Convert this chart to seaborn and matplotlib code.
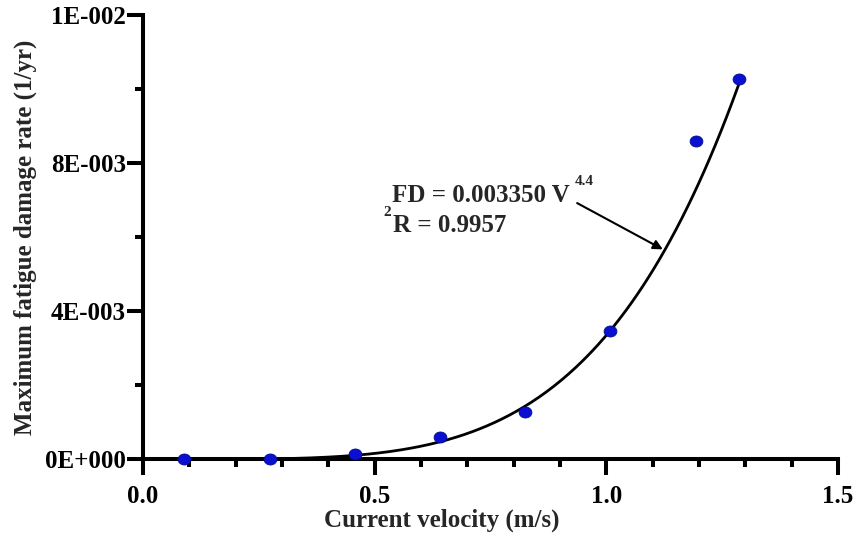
import numpy as np
import pandas as pd
import matplotlib
matplotlib.use("Agg")
import matplotlib.pyplot as plt
from matplotlib.path import Path
from matplotlib.ticker import MultipleLocator
import seaborn as sns

# Measured fatigue damage rates versus current velocity
velocity = [0.089, 0.274, 0.458, 0.641, 0.825, 1.009, 1.193, 1.287]
damage_rate = [0.0, 0.0, 0.00014, 0.0006, 0.00127, 0.00347, 0.0086, 0.01028]

# Power-law fit FD = a * V^b
fit_coef = 0.003350
fit_exp = 4.4
fit_r2 = 0.9957

x_ticks = [0.0, 0.5, 1.0, 1.5]
x_tick_labels = ["0.0", "0.5", "1.0", "1.5"]
y_ticks = [0.0, 0.004, 0.008, 0.012]
y_tick_labels = ["0E+000", "4E-003", "8E-003", "1E-002"]

sns.set_style("ticks")
plt.rcParams["font.family"] = ["Liberation Serif", "DejaVu Serif"]
plt.rcParams["font.weight"] = "bold"
plt.rcParams["axes.labelweight"] = "bold"

df = pd.DataFrame({"velocity": velocity, "damage": damage_rate})
v_fit = np.linspace(min(velocity), max(velocity), 300)
fit_df = pd.DataFrame({"velocity": v_fit, "damage": fit_coef * v_fit ** fit_exp})

fig = plt.figure(figsize=(8.6, 5.37), dpi=100)
ax = fig.add_axes([0.1663, 0.1447, 0.8081, 0.8274])

sns.lineplot(data=fit_df, x="velocity", y="damage", ax=ax, color="black",
             linewidth=2.0, zorder=2)

# slightly flattened circle marker
circ = Path.unit_circle()
ellipse = Path(circ.vertices * np.array([1.0, 0.86]), circ.codes)
sns.scatterplot(data=df, x="velocity", y="damage", ax=ax, marker=ellipse,
                s=85, color="#0a0fd2", edgecolor="#00108a", linewidth=0.6,
                zorder=3, clip_on=False)

ax.set_xlim(0, 1.5)
ax.set_ylim(0, 0.012)
ax.set_xticks(x_ticks)
ax.set_xticklabels(x_tick_labels)
ax.set_yticks(y_ticks)
ax.set_yticklabels(y_tick_labels)
ax.xaxis.set_minor_locator(MultipleLocator(0.1))
ax.yaxis.set_minor_locator(MultipleLocator(0.002))

sns.despine(ax=ax)
for side in ("left", "bottom"):
    ax.spines[side].set_linewidth(2.9)
    ax.spines[side].set_color("black")

ax.tick_params(axis="both", which="major", length=11.5, width=2.9,
               color="black", labelsize=18, labelcolor="black")
ax.tick_params(axis="both", which="minor", length=6, width=2.9, color="black")
ax.tick_params(axis="x", which="major", pad=7)
ax.tick_params(axis="y", which="major", pad=1)
for lbl in ax.get_xticklabels() + ax.get_yticklabels():
    lbl.set_fontweight("bold")

ax.set_xlabel("Current velocity (m/s)", fontsize=18, fontweight="bold")
ax.set_ylabel("Maximum fatigue damage rate (1/yr)", fontsize=18,
              fontweight="bold")
ax.xaxis.set_label_coords(0.43, -0.112)
ax.yaxis.set_label_coords(-0.153, 0.5)

# fit equation and coefficient of determination
ax.text(0.537, 0.00696, f"FD = {fit_coef:.6f} V", fontsize=18,
        fontweight="bold", ha="left", va="baseline")
ax.text(0.932, 0.0074, f"{fit_exp}", fontsize=11, fontweight="bold",
        ha="left", va="baseline")
ax.text(0.518, 0.00656, "2", fontsize=11, fontweight="bold",
        ha="left", va="baseline")
ax.text(0.539, 0.00615, f"R = {fit_r2}", fontsize=18, fontweight="bold",
        ha="left", va="baseline")
ax.annotate("", xy=(1.122, 0.00567), xytext=(0.937, 0.00692),
            arrowprops=dict(arrowstyle="-|>", color="black", lw=1.5,
                            mutation_scale=14, shrinkA=0, shrinkB=0))

fig.savefig("out.png", dpi=100, facecolor="white")
